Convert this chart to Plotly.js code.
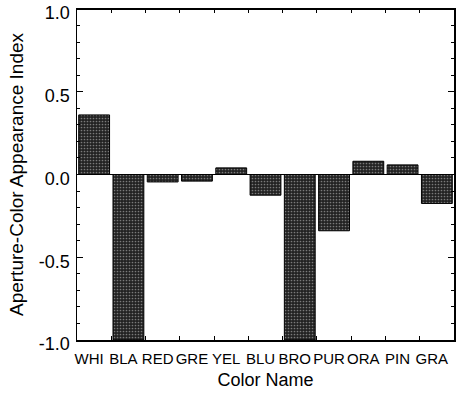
<!DOCTYPE html>
<html><head><meta charset="utf-8">
<script src="https://cdn.plot.ly/plotly-3.0.1.min.js"></script>
<style>html,body{margin:0;padding:0;background:#fff}</style>
</head><body>
<div id="chart" style="width:456px;height:396px"></div>
<script>
var categories = ["WHI","BLA","RED","GRE","YEL","BLU","BRO","PUR","ORA","PIN","GRA"];
var appearanceIndex = [0.36, -1.0, -0.045, -0.04, 0.04, -0.125, -1.0, -0.34, 0.08, 0.058, -0.175];
var yTickValues = [-1.0, -0.5, 0.0, 0.5, 1.0];
var yTickLabels = ["-1.0", "-0.5", "0.0", "0.5", "1.0"];

var font = "Liberation Sans, Arial, Helvetica, sans-serif";
var trace = {
  type: "bar",
  x: categories,
  y: appearanceIndex,
  marker: {
    color: "#2a2a2a",
    line: {color: "#000", width: 1},
    pattern: {shape: ".", bgcolor: "#222", fgcolor: "#7a7a7a", size: 3, solidity: 0.25}
  },
  width: 0.9,
  hoverinfo: "skip"
};
var layout = {
  width: 456, height: 396,
  margin: {l: 77, r: 2, t: 9, b: 56},
  paper_bgcolor: "#fff", plot_bgcolor: "#fff",
  showlegend: false,
  font: {family: font, color: "#000"},
  xaxis: {
    type: "category",
    range: [-0.5, 10.5],
    showline: true, linecolor: "#000", linewidth: 1.5,
    mirror: "allticks",
    ticks: "inside", ticklen: 4, tickcolor: "#000", tickwidth: 1,
    tickson: "boundaries",
    tickangle: 0,
    ticklabelshift: -5,
    ticklabelstandoff: 4,
    showgrid: false,
    tickfont: {size: 15, family: font},
    title: {text: "Color Name", font: {size: 18, family: font}, standoff: 8}
  },
  yaxis: {
    range: [-1.0, 1.0],
    tickvals: yTickValues, ticktext: yTickLabels,
    showline: true, linecolor: "#000", linewidth: 1.5,
    mirror: "allticks",
    ticks: "inside", ticklen: 6, tickcolor: "#000", tickwidth: 1.2,
    minor: {dtick: 0.1, ticks: "inside", ticklen: 3, tickcolor: "#000", tickwidth: 1, showgrid: false},
    showgrid: false,
    zeroline: true, zerolinecolor: "#000", zerolinewidth: 1.5,
    ticklabelshift: 4,
    ticklabelstandoff: 2,
    tickfont: {size: 18, family: font},
    title: {text: "Aperture-Color Appearance Index", font: {size: 19, family: font}, standoff: 10}
  },
  shapes: [{
    type: "line", xref: "paper", yref: "paper", x0: 0, x1: 1, y0: 1, y1: 1,
    line: {color: "#000", width: 2}, layer: "above"
  }]
};
Plotly.newPlot("chart", [trace], layout, {staticPlot: true, displayModeBar: false});
</script>
</body></html>
